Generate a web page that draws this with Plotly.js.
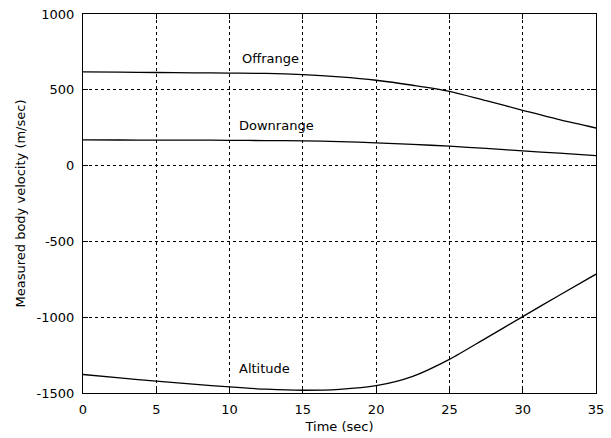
<!DOCTYPE html>
<html>
<head>
<meta charset="utf-8">
<script src="https://cdn.plot.ly/plotly-3.0.1.min.js"></script>
<style>
  html, body { margin: 0; padding: 0; background: #fff; }
  #chart { width: 611px; height: 438px; }
</style>
</head>
<body>
<div id="chart"></div>
<script>
// Time samples (sec)
const time = [0, 2.5, 5, 7.5, 10, 12.5, 15, 17.5, 20, 22.5, 25, 27.5, 30, 32.5, 35];

// Measured body velocity components (m/sec)
const offrange  = [618, 617, 614, 612, 610, 608, 600, 585, 563, 530, 490, 428, 365, 303, 248];
const downrange = [170, 169, 168, 168, 167, 165, 163, 158, 150, 140, 128, 113, 97, 82, 66];
const altitude  = [-1378, -1400, -1422, -1442, -1460, -1475, -1482, -1476, -1452, -1390, -1278, -1138, -996, -855, -716];

// Curve labels: [text, time, velocity]
const curveLabels = [
  ["Offrange", 12.8, 708],
  ["Downrange", 13.2, 267],
  ["Altitude", 12.4, -1341]
];

const xTicks = [0, 5, 10, 15, 20, 25, 30, 35];
const yTicks = [-1500, -1000, -500, 0, 500, 1000];

const font = { family: "DejaVu Sans, Arial, sans-serif", size: 13, color: "#000" };
const lineStyle = { color: "#000", width: 1.3, shape: "spline", smoothing: 0.8 };

const traces = [
  { x: time, y: offrange,  mode: "lines", line: lineStyle, name: "Offrange" },
  { x: time, y: downrange, mode: "lines", line: lineStyle, name: "Downrange" },
  { x: time, y: altitude,  mode: "lines", line: lineStyle, name: "Altitude" }
];

const axisCommon = {
  showline: true, linecolor: "#000", linewidth: 1, mirror: "ticks",
  ticks: "inside", ticklen: 5, tickcolor: "#000", tickwidth: 1,
  showgrid: true, gridcolor: "#000", gridwidth: 1, griddash: "3px,3px",
  zeroline: false, tickfont: font
};

const layout = {
  width: 611, height: 438,
  margin: { l: 83, r: 15, t: 13.5, b: 44.5 },
  paper_bgcolor: "#fff", plot_bgcolor: "#fff",
  showlegend: false,
  font: font,
  xaxis: Object.assign({}, axisCommon, {
    range: [0, 35], tickmode: "array", tickvals: xTicks,
    ticktext: xTicks.map(String), ticklabelstandoff: 4,
    title: { text: "Time (sec)", font: font, standoff: 6 }
  }),
  yaxis: Object.assign({}, axisCommon, {
    range: [-1500, 1000], tickmode: "array", tickvals: yTicks,
    ticktext: yTicks.map(String), ticklabelstandoff: 5,
    title: { text: "Measured body velocity (m/sec)", font: font, standoff: 8 }
  }),
  annotations: curveLabels.map(([t, x, y]) => ({
    text: t, x: x, y: y, xref: "x", yref: "y",
    showarrow: false, font: font, xanchor: "center", yanchor: "middle"
  }))
};

Plotly.newPlot("chart", traces, layout, { displayModeBar: false, staticPlot: true });
</script>
</body>
</html>
